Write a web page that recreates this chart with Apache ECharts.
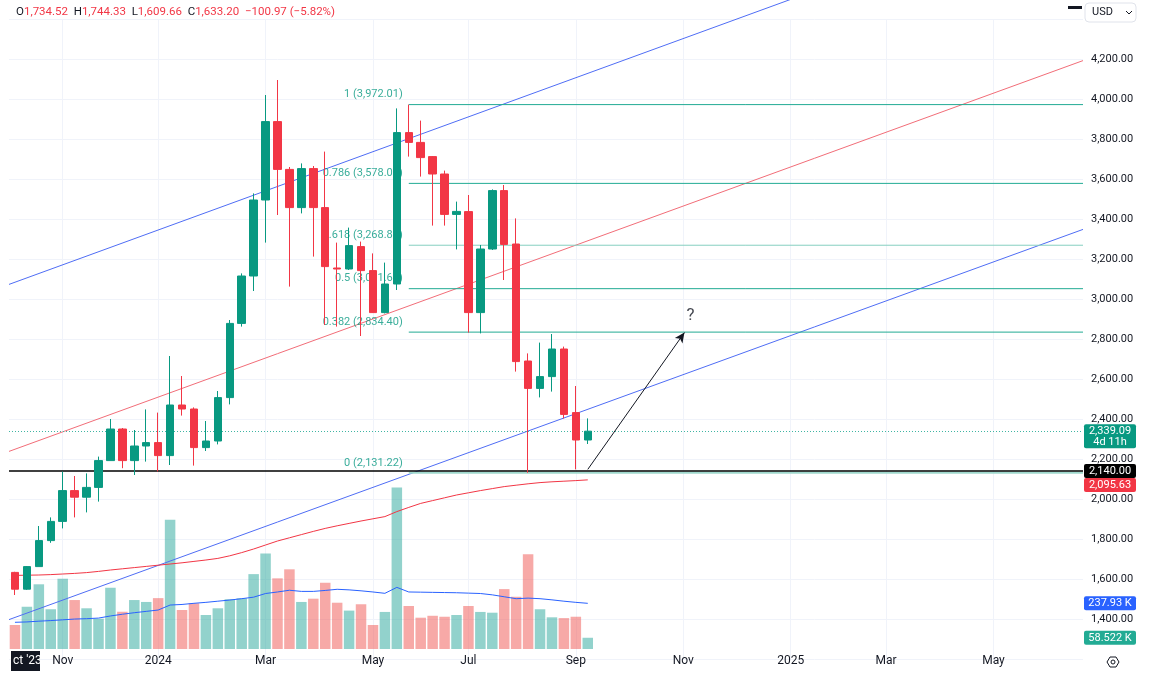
<!DOCTYPE html>
<html>
<head>
<meta charset="utf-8">
<title>ETH weekly</title>
<script src="https://cdn.jsdelivr.net/npm/echarts@6/dist/echarts.min.js"></script>
<style>
html, body { margin: 0; padding: 0; background: #fff; }
#chart { width: 1154px; height: 691px; }
</style>
</head>
<body>
<div id="chart"></div>
<script>
// weekly bars, first one is the week of 2023-10-09
const startWeek = '2023-10-09'
const weekCount = 90

// [open, close, low, high]
const ohlc = [
  [1633, 1549, 1520, 1636], [1549, 1662, 1545, 1665], [1662, 1792, 1662, 1865], [1792, 1888, 1781, 1908],
  [1888, 2042, 1853, 2137], [2042, 2009, 1908, 2115], [2009, 2058, 1933, 2128], [2058, 2192, 1987, 2212],
  [2192, 2350, 2192, 2400], [2350, 2192, 2154, 2355], [2192, 2265, 2120, 2345], [2265, 2282, 2187, 2448],
  [2282, 2217, 2138, 2432], [2217, 2470, 2170, 2715], [2470, 2450, 2417, 2615], [2450, 2257, 2167, 2458],
  [2257, 2290, 2240, 2390], [2290, 2507, 2273, 2540], [2507, 2878, 2473, 2895], [2878, 3115, 2862, 3128],
  [3115, 3495, 3040, 3528], [3495, 3887, 3282, 4020], [3887, 3648, 3420, 4095], [3648, 3457, 3062, 3660],
  [3457, 3652, 3428, 3678], [3652, 3457, 3212, 3665], [3457, 3162, 2870, 3737], [3155, 3150, 2862, 3282],
  [3150, 3267, 3145, 3357], [3262, 3142, 2815, 3287], [3142, 2932, 2930, 3228], [2932, 3075, 2928, 3182],
  [3075, 3832, 3045, 3953], [3832, 3783, 3712, 3972.01], [3783, 3707, 3612, 3892], [3712, 3625, 3367, 3715],
  [3625, 3423, 3367, 3642], [3423, 3438, 3248, 3487], [3437, 2932, 2832, 3520], [2932, 3250, 2828, 3270],
  [3250, 3542, 3245, 3548], [3542, 3273, 3095, 3570], [3275, 2687, 2637, 3403], [2690, 2553, 2131.22, 2728],
  [2553, 2612, 2508, 2782], [2612, 2750, 2537, 2825], [2750, 2423, 2403, 2762], [2432, 2295, 2148, 2565],
  [2295, 2339.09, 2275, 2403]
]

const volumes = [
  125000, 220000, 337000, 207000, 366000, 255000, 212000, 158000, 319000, 194000,
  255000, 245000, 265000, 673000, 203000, 238000, 177000, 212000, 259000, 264000,
  390000, 498000, 368000, 415000, 245000, 262000, 345000, 241000, 200000, 233000,
  125000, 193000, 841000, 224000, 163000, 173000, 168000, 177000, 224000, 193000,
  189000, 312000, 272000, 493000, 207000, 165000, 161000, 168000, 58522
]

const volumeMa = [
  139000, 141000, 145000, 148000, 152000, 156000, 158000, 161000, 172000, 181000,
  189000, 196000, 203000, 229000, 232000, 238000, 243000, 249000, 255000, 262000,
  270000, 289000, 297000, 306000, 300000, 300000, 305000, 311000, 308000, 303000,
  297000, 290000, 321000, 297000, 296000, 295000, 294000, 293000, 291000, 289000,
  282000, 272000, 262000, 265000, 262000, 256000, 249000, 243000, 237930
]

const priceMa = [
  1618, 1619, 1620, 1622, 1625, 1628, 1632, 1638, 1645, 1651,
  1657, 1663, 1669, 1675, 1681, 1688, 1695, 1703, 1716, 1732,
  1750, 1770, 1790, 1806, 1822, 1838, 1853, 1866, 1878, 1890,
  1901, 1912, 1937, 1958, 1978, 1992, 2006, 2020, 2031, 2042,
  2052, 2062, 2069, 2076, 2082, 2086, 2089, 2092, 2095.63
]

// drawings: [week index, price]
const upperChannel = [[-0.5, 3073], [89.5, 5031]]
const midChannel = [[-0.5, 2238], [89.5, 4192]]
const lowerChannel = [[-0.5, 1397], [89.5, 3348]]
const fibLow = 2131.22
const fibHigh = 3972.01
const fibLevels = [0, 0.382, 0.5, 0.618, 0.786, 1]
const fibColors = ['#9fd8cd', '#22ab94', '#22ab94', '#86cfc0', '#22ab94', '#22ab94']
const arrowPath = [[48, 2148], [56.1, 2832]]
const questionMark = [56.6, 2915]
const currentPrice = 2339.09
const supportLevel = 2140
const header = [['O', '1,734.52'], ['H', '1,744.33'], ['L', '1,609.66'], ['C', '1,633.20'], ['', '\u2212100.97 (\u22125.82%)']]

const up = '#089981'
const down = '#f23645'
const font = 'Roboto, sans-serif'

const weeks = []
const t0 = new Date(startWeek + 'T00:00:00Z').getTime()
for (let i = 0; i < weekCount; i++) {
  weeks.push(new Date(t0 + i * 7 * 86400000).toISOString().slice(0, 10))
}
const monthNames = ['Jan', 'Feb', 'Mar', 'Apr', 'May', 'Jun', 'Jul', 'Aug', 'Sep', 'Oct', 'Nov', 'Dec']
function isMarker(value) {
  const m = +value.slice(5, 7) - 1
  return +value.slice(8, 10) <= 7 && m % 2 === 0
}
function markerText(value) {
  const m = +value.slice(5, 7) - 1
  return m === 0 ? value.slice(0, 4) : monthNames[m]
}
const fmt = (v) => v.toLocaleString('en-US', { minimumFractionDigits: 2, maximumFractionDigits: 2 })

const fibStart = ohlc.findIndex((d) => d[3] === fibHigh)
const fibSeries = []
fibLevels.forEach((lvl, i) => {
  const price = fibLow + lvl * (fibHigh - fibLow)
  fibSeries.push({
    type: 'line',
    xAxisIndex: 2,
    yAxisIndex: 0,
    data: [[fibStart, price], [weekCount - 0.5, price]],
    showSymbol: false,
    silent: true,
    z: 2,
    lineStyle: { color: fibColors[i], width: lvl === 0 ? 2 : 1 }
  })
})
fibSeries.push({
  type: 'scatter',
  xAxisIndex: 2,
  yAxisIndex: 0,
  symbolSize: 0,
  silent: true,
  z: 3,
  data: fibLevels.map((lvl) => [fibStart, fibLow + lvl * (fibHigh - fibLow), lvl]),
  label: {
    show: true,
    position: 'left',
    distance: 6,
    offset: [0, -10],
    color: up,
    fontSize: 11,
    fontFamily: font,
    formatter: (p) => p.value[2] + ' (' + fmt(p.value[1]) + ')'
  }
})

function channel(data, color) {
  return {
    type: 'line',
    xAxisIndex: 2,
    yAxisIndex: 0,
    data: data,
    showSymbol: false,
    silent: true,
    clip: false,
    z: 2,
    lineStyle: { color: color, width: 1 }
  }
}

const chart = echarts.init(document.getElementById('chart'))

chart.setOption({
  animation: false,
  backgroundColor: '#ffffff',
  grid: [
    { left: 9, right: 71, top: 19, height: 640 },
    { left: 9, right: 71, top: 457, height: 192 }
  ],
  xAxis: [
    {
      type: 'category',
      gridIndex: 0,
      data: weeks,
      boundaryGap: true,
      axisLine: { show: false },
      axisTick: { show: false },
      axisLabel: { show: false },
      splitLine: {
        show: true,
        alignWithLabel: true,
        interval: (index, value) => isMarker(value),
        lineStyle: { color: '#f0f3fa', width: 1 }
      }
    },
    {
      type: 'category',
      gridIndex: 1,
      data: weeks,
      boundaryGap: true,
      axisLine: { show: false },
      axisTick: { show: false },
      splitLine: { show: false },
      axisLabel: {
        interval: (index, value) => isMarker(value),
        formatter: (value) => markerText(value),
        color: '#131722',
        fontSize: 12,
        fontFamily: font,
        margin: 6
      }
    },
    { type: 'value', gridIndex: 0, min: -0.5, max: weekCount - 0.5, show: false }
  ],
  yAxis: [
    {
      type: 'value',
      gridIndex: 0,
      position: 'right',
      min: 1200,
      max: 4400,
      interval: 200,
      axisLine: { show: false },
      axisTick: { show: false },
      splitLine: { lineStyle: { color: '#f0f3fa', width: 1 } },
      axisLabel: {
        align: 'left',
        margin: 8,
        color: '#131722',
        fontSize: 11,
        fontFamily: font,
        formatter: (v) => (v < 1400 || v > 4200 ? '' : fmt(v))
      }
    },
    { type: 'value', gridIndex: 1, min: 0, max: 1000000, show: false }
  ],
  series: [
    {
      type: 'bar',
      xAxisIndex: 1,
      yAxisIndex: 1,
      barWidth: '88%',
      silent: true,
      z: 1,
      data: volumes.map((v, i) => ({
        value: v,
        itemStyle: { color: ohlc[i][1] >= ohlc[i][0] ? 'rgba(38,166,154,0.5)' : 'rgba(239,83,80,0.5)' }
      }))
    },
    {
      type: 'line',
      xAxisIndex: 1,
      yAxisIndex: 1,
      data: volumeMa,
      showSymbol: false,
      silent: true,
      z: 2,
      lineStyle: { color: '#2962ff', width: 1 }
    },
    channel(upperChannel, '#4f6df5'),
    channel(midChannel, '#f26d78'),
    channel(lowerChannel, '#4f6df5'),
    ...fibSeries,
    {
      type: 'line',
      xAxisIndex: 0,
      yAxisIndex: 0,
      data: priceMa,
      showSymbol: false,
      silent: true,
      z: 2,
      lineStyle: { color: '#f23645', width: 1 }
    },
    {
      type: 'candlestick',
      xAxisIndex: 0,
      yAxisIndex: 0,
      barWidth: 8,
      z: 5,
      data: ohlc,
      itemStyle: { color: up, color0: down, borderColor: up, borderColor0: down, borderWidth: 1 },
      markLine: {
        silent: true,
        symbol: 'none',
        label: { show: false },
        data: [
          { yAxis: supportLevel, lineStyle: { color: '#000000', width: 1.5, type: 'solid' } },
          { yAxis: currentPrice, lineStyle: { color: '#3fb5a3', width: 1, type: [1, 2] } }
        ]
      }
    },
    {
      type: 'line',
      xAxisIndex: 2,
      yAxisIndex: 0,
      data: [],
      z: 6,
      markLine: {
        silent: true,
        symbol: ['none', 'arrow'],
        symbolSize: [7, 10],
        label: { show: false },
        lineStyle: { color: '#131722', width: 1, type: 'solid' },
        data: [[{ coord: arrowPath[0] }, { coord: arrowPath[1] }]]
      }
    },
    {
      type: 'scatter',
      xAxisIndex: 2,
      yAxisIndex: 0,
      symbolSize: 0,
      silent: true,
      z: 6,
      data: [questionMark],
      label: {
        show: true,
        position: 'inside',
        formatter: '?',
        color: '#131722',
        fontSize: 17,
        fontFamily: font
      }
    }
  ]
})

// price scale tags and overlay texts
const py = (v) => chart.convertToPixel({ yAxisIndex: 0 }, v)
const vy = (v) => chart.convertToPixel({ yAxisIndex: 1 }, v)
const tagX = 1084
const tagW = 52
function tag(top, h, bg, text) {
  return {
    type: 'group',
    silent: true,
    children: [
      { type: 'rect', shape: { x: tagX, y: top, width: tagW, height: h, r: 2 }, style: { fill: bg } },
      {
        type: 'text',
        x: tagX + tagW / 2,
        y: top + h / 2,
        style: { text: text, fill: '#ffffff', fontSize: 11, fontFamily: font, align: 'center', verticalAlign: 'middle', lineHeight: 11 }
      }
    ]
  }
}

const yCur = py(currentPrice)
const ySup = py(supportLevel)
const yMa = Math.max(py(priceMa[priceMa.length - 1]) - 7, ySup + 7)
const yVma = vy(volumeMa[volumeMa.length - 1])
const yVol = vy(volumes[volumes.length - 1])

let rich = { k: { fill: '#131722', fontSize: 11.5, fontFamily: font }, v: { fill: down, fontSize: 11.5, fontFamily: font } }
let headText = header.map((h) => (h[0] ? '{k|' + h[0] + '}' : '') + '{v|' + h[1] + '}').join('{v|  }')

chart.setOption({
  graphic: [
    {
      type: 'text',
      x: 16,
      y: 12,
      silent: true,
      style: { text: headText, rich: rich, verticalAlign: 'middle' }
    },
    {
      type: 'rect',
      silent: true,
      shape: { x: 1085, y: 3, width: 51, height: 19, r: 4 },
      style: { fill: '#ffffff', stroke: '#e0e3eb', lineWidth: 1 }
    },
    {
      type: 'text',
      x: 1092,
      y: 12.5,
      silent: true,
      style: { text: 'USD', fill: '#131722', fontSize: 11, fontFamily: font, verticalAlign: 'middle' }
    },
    {
      type: 'polyline',
      silent: true,
      shape: { points: [[1126, 11], [1129, 14], [1132, 11]] },
      style: { stroke: '#131722', lineWidth: 1, fill: null }
    },
    { type: 'rect', silent: true, shape: { x: 1068, y: 6, width: 14, height: 3 }, style: { fill: '#131722' } },
    {
      type: 'group',
      silent: true,
      children: [
        { type: 'rect', shape: { x: tagX, y: yCur - 7, width: tagW, height: 24, r: 2 }, style: { fill: up } },
        {
          type: 'text',
          x: tagX + tagW / 2,
          y: yCur,
          style: { text: fmt(currentPrice), fill: '#ffffff', fontSize: 11, fontFamily: font, align: 'center', verticalAlign: 'middle' }
        },
        {
          type: 'text',
          x: tagX + tagW / 2,
          y: yCur + 11,
          style: { text: '4d 11h', fill: '#ffffff', fontSize: 11, fontFamily: font, align: 'center', verticalAlign: 'middle' }
        }
      ]
    },
    tag(ySup - 7, 14, '#000000', fmt(supportLevel)),
    tag(yMa, 14, down, fmt(priceMa[priceMa.length - 1])),
    tag(yVma - 7, 14, '#2962ff', (volumeMa[volumeMa.length - 1] / 1000).toFixed(2) + ' K'),
    tag(yVol - 7, 14, '#22ab94', (volumes[volumes.length - 1] / 1000).toFixed(3) + ' K'),
    { type: 'rect', silent: true, shape: { x: 11, y: 651, width: 29, height: 20 }, style: { fill: '#131722' } },
    {
      type: 'text',
      x: 13,
      y: 661,
      silent: true,
      style: { text: "ct '23", fill: '#ffffff', fontSize: 12, fontFamily: font, verticalAlign: 'middle' }
    },
    {
      type: 'polygon',
      silent: true,
      shape: { points: [[1107, 662], [1110, 657], [1116, 657], [1119, 662], [1116, 667], [1110, 667]] },
      style: { fill: null, stroke: '#131722', lineWidth: 1 }
    },
    { type: 'circle', silent: true, shape: { cx: 1113, cy: 662, r: 2 }, style: { fill: null, stroke: '#131722', lineWidth: 1 } }
  ]
})
</script>
</body>
</html>
